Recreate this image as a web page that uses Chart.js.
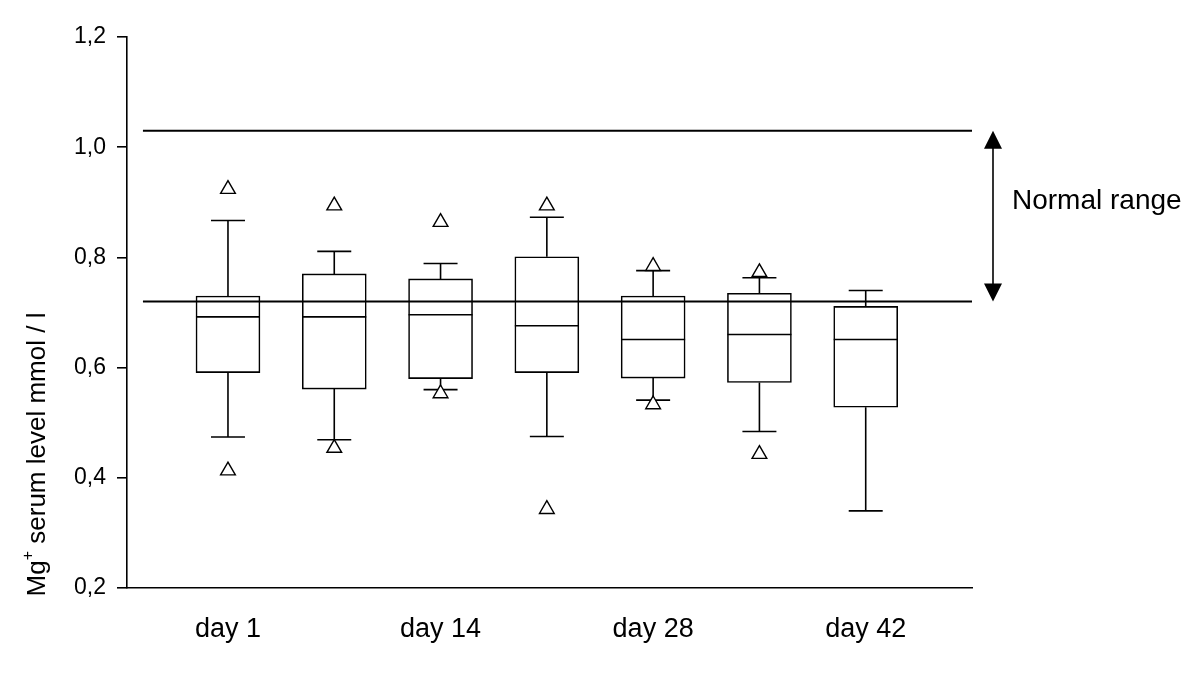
<!DOCTYPE html>
<html>
<head>
<meta charset="utf-8">
<script src="https://cdn.jsdelivr.net/npm/chart.js@4"></script>
<style>
  html, body { margin: 0; padding: 0; background: #fff; }
  #wrap { width: 1200px; height: 675px; }
</style>
</head>
<body>
<div id="wrap"><canvas id="chart"></canvas></div>
<script>
// box positions on the x axis and their labels
const boxPos = [1, 2, 3, 4, 5, 6, 7];
const xTickPos = [1, 3, 5, 7];
const xTickLabels = ['day 1', 'day 14', 'day 28', 'day 42'];

// box plot values (mmol / l)
const whiskerLow  = [0.474, 0.469, 0.560, 0.475, 0.541, 0.484, 0.340];
const q1          = [0.591, 0.561, 0.580, 0.591, 0.581, 0.573, 0.528];
const median      = [0.692, 0.692, 0.696, 0.676, 0.651, 0.660, 0.651];
const q3          = [0.730, 0.770, 0.761, 0.801, 0.730, 0.735, 0.711];
const whiskerHigh = [0.867, 0.811, 0.789, 0.873, 0.776, 0.763, 0.740];
const outliersHigh = [0.924, 0.894, 0.864, 0.894, 0.784, 0.773, null];
const outliersLow  = [0.413, 0.454, 0.553, 0.343, 0.533, 0.443, null];

// normal range
const normalRange = [0.72, 1.03];

const yTicks = [0.2, 0.4, 0.6, 0.8, 1.0, 1.2];
const yTickLabels = ['0,2', '0,4', '0,6', '0,8', '1,0', '1,2'];

const FONT = 'Arial, "Liberation Sans", Helvetica, sans-serif';

const outlierPts = [];
boxPos.forEach((x, i) => {
  if (outliersHigh[i] != null) outlierPts.push({ x, y: outliersHigh[i] });
  if (outliersLow[i] != null) outlierPts.push({ x, y: outliersLow[i] });
});

// whiskers, caps, medians, normal range and annotations
const boxExtras = {
  id: 'boxExtras',
  beforeDatasetsDraw(chart) {
    const { ctx, scales: { x, y } } = chart;
    ctx.save();
    ctx.strokeStyle = '#000';
    ctx.lineWidth = 1.6;
    const capHalf = 17;
    boxPos.forEach((p, i) => {
      const px = x.getPixelForValue(p);
      const th = y.getPixelForValue(whiskerHigh[i]);
      const tl = y.getPixelForValue(whiskerLow[i]);
      ctx.beginPath();
      ctx.moveTo(px, y.getPixelForValue(q3[i])); ctx.lineTo(px, th);
      ctx.moveTo(px, y.getPixelForValue(q1[i])); ctx.lineTo(px, tl);
      ctx.moveTo(px - capHalf, th); ctx.lineTo(px + capHalf, th);
      ctx.moveTo(px - capHalf, tl); ctx.lineTo(px + capHalf, tl);
      ctx.stroke();
    });
    ctx.restore();
  },
  afterDatasetsDraw(chart) {
    const { ctx, scales: { x, y } } = chart;
    ctx.save();
    ctx.strokeStyle = '#000';
    ctx.fillStyle = '#000';
    ctx.lineWidth = 1.6;
    const half = 32;
    // medians
    boxPos.forEach((p, i) => {
      const px = x.getPixelForValue(p);
      const py = y.getPixelForValue(median[i]);
      ctx.beginPath();
      ctx.moveTo(px - half, py); ctx.lineTo(px + half, py);
      ctx.stroke();
    });
    // normal range lines
    ctx.lineWidth = 2;
    normalRange.forEach(v => {
      const py = y.getPixelForValue(v);
      ctx.beginPath();
      ctx.moveTo(x.getPixelForValue(0.2), py);
      ctx.lineTo(x.getPixelForValue(8), py);
      ctx.stroke();
    });
    // double arrow
    const ax = x.right + 21;
    const yTop = y.getPixelForValue(normalRange[1]);
    const yBot = y.getPixelForValue(normalRange[0]);
    const head = 18, hw = 9;
    ctx.lineWidth = 1.6;
    ctx.beginPath();
    ctx.moveTo(ax, yTop + head - 2); ctx.lineTo(ax, yBot - head + 2);
    ctx.stroke();
    ctx.beginPath();
    ctx.moveTo(ax, yTop); ctx.lineTo(ax - hw, yTop + head); ctx.lineTo(ax + hw, yTop + head);
    ctx.closePath(); ctx.fill();
    ctx.beginPath();
    ctx.moveTo(ax, yBot); ctx.lineTo(ax - hw, yBot - head); ctx.lineTo(ax + hw, yBot - head);
    ctx.closePath(); ctx.fill();
    // label
    ctx.font = '28px ' + FONT;
    ctx.textAlign = 'left';
    ctx.textBaseline = 'alphabetic';
    ctx.fillText('Normal range', ax + 19, yTop + 78);

    // y axis title with superscript
    const big = '26px ' + FONT, small = '16px ' + FONT;
    ctx.font = big;
    const w1 = ctx.measureText('Mg').width;
    const w3 = ctx.measureText(' serum level mmol / l').width;
    ctx.font = small;
    const w2 = ctx.measureText('+').width;
    const total = w1 + w2 + w3;
    ctx.translate(45, (312 + 597) / 2);
    ctx.rotate(-Math.PI / 2);
    let tx = -total / 2;
    ctx.font = big;
    ctx.fillText('Mg', tx, 0); tx += w1;
    ctx.font = small;
    ctx.fillText('+', tx, -12); tx += w2;
    ctx.font = big;
    ctx.fillText(' serum level mmol / l', tx, 0);
    ctx.restore();
  }
};

new Chart(document.getElementById('chart'), {
  type: 'bar',
  data: {
    datasets: [
      {
        type: 'bar',
        data: boxPos.map((x, i) => ({ x, y: [q1[i], q3[i]] })),
        backgroundColor: '#fff',
        borderColor: '#000',
        borderWidth: 1.6,
        borderSkipped: false,
        barThickness: 64,
        order: 2
      },
      {
        type: 'scatter',
        data: outlierPts,
        pointStyle: 'triangle',
        radius: 8.5,
        backgroundColor: '#fff',
        borderColor: '#000',
        borderWidth: 1.4,
        order: 1
      }
    ]
  },
  options: {
    responsive: true,
    maintainAspectRatio: false,
    animation: false,
    layout: { padding: { left: 0, right: 228, top: 37, bottom: 0 } },
    plugins: { legend: { display: false }, tooltip: { enabled: false } },
    scales: {
      x: {
        type: 'linear',
        min: 0.05,
        max: 8,
        offset: false,
        afterBuildTicks: s => { s.ticks = xTickPos.map(v => ({ value: v })); },
        afterFit: s => { s.height = 87; },
        grid: { display: false },
        border: { display: true, color: '#000', width: 1.6 },
        ticks: {
          padding: 17,
          color: '#000',
          font: { size: 27, family: FONT },
          callback: v => xTickLabels[xTickPos.indexOf(v)]
        }
      },
      y: {
        min: 0.2,
        max: 1.2,
        afterBuildTicks: s => { s.ticks = yTicks.map(v => ({ value: v })); },
        afterFit: s => { s.width = 127; },
        grid: { drawOnChartArea: false, drawTicks: true, tickLength: 10, color: '#000', lineWidth: 1.6 },
        border: { display: true, color: '#000', width: 1.6 },
        ticks: {
          padding: 11,
          color: '#000',
          font: { size: 23, family: FONT },
          callback: v => yTickLabels[yTicks.indexOf(v)]
        }
      }
    }
  },
  plugins: [boxExtras]
});
</script>
</body>
</html>
